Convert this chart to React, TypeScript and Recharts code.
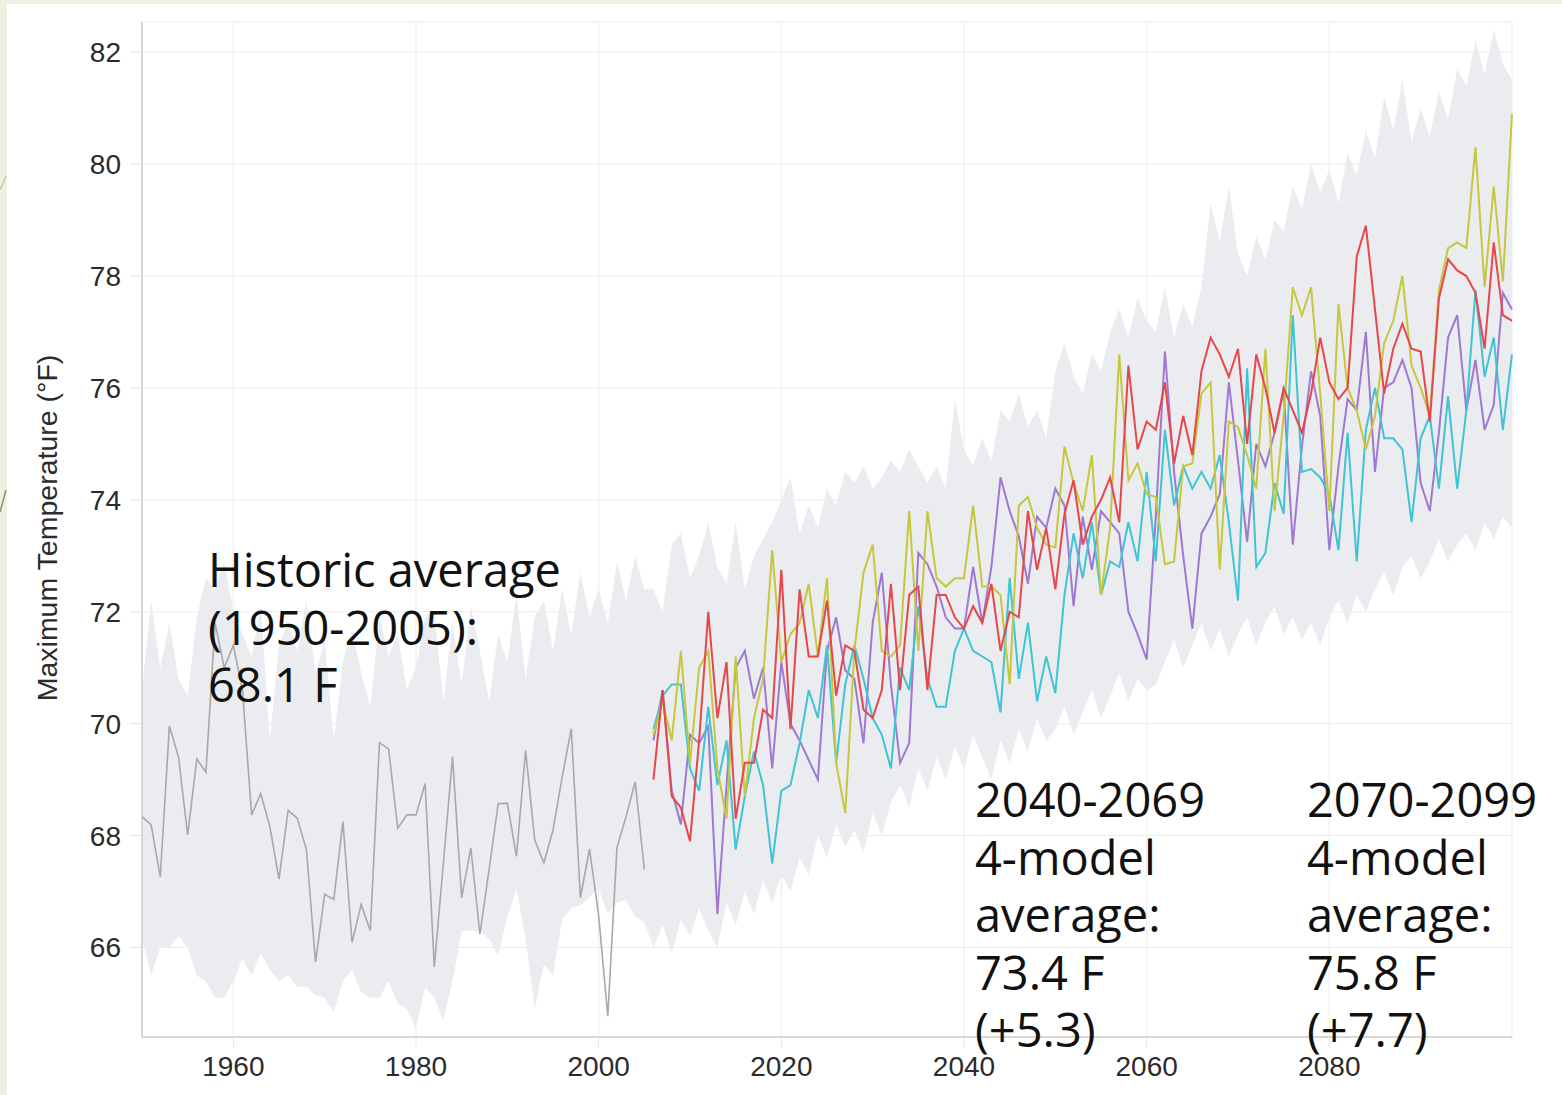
import React from 'react';
import { ComposedChart, Area, Line, XAxis, YAxis, CartesianGrid } from 'recharts';

// Maximum temperature (°F): observed 1950-2005, four downscaled models 2006-2100
const FIRST_YEAR = 1950;
const MODEL_START = 2006;

const xTicks = [1960, 1980, 2000, 2020, 2040, 2060, 2080];
const yTicks = [66, 68, 70, 72, 74, 76, 78, 80, 82];

const historic = [
  68.34, 68.19, 67.26, 69.96, 69.4, 68.01, 69.37, 69.13, 71.8, 71.0,
  71.4, 70.6, 68.37, 68.75, 68.16, 67.22, 68.45, 68.31, 67.75, 65.74,
  66.95, 66.86, 68.25, 66.09, 66.77, 66.3, 69.66, 69.55, 68.13, 68.37,
  68.37, 68.93, 65.65, 67.51, 69.41, 66.89, 67.78, 66.24, 67.39, 68.57,
  68.58, 67.63, 69.52, 67.92, 67.51, 68.1, 69.04, 69.91, 66.89, 67.76,
  66.57, 64.77, 67.78, 68.34, 68.96, 67.39,
];

const modelRed = [
  69.0, 70.6, 68.7, 68.5,
  67.9, 69.7, 72.0, 70.1, 71.1, 68.3, 69.3, 69.3, 70.25, 70.1,
  72.75, 69.9, 72.4, 71.2, 71.2, 72.2, 70.5, 71.4, 71.3, 70.25,
  70.1, 70.6, 72.5, 70.6, 72.3, 72.45, 70.6, 72.3, 72.3, 71.9,
  71.7, 72.1, 71.8, 72.5, 71.3, 72.0, 71.9, 73.8, 72.75, 73.5,
  72.4, 73.75, 74.35, 73.2, 73.7, 74.0, 74.4, 73.6, 76.4, 74.9,
  75.4, 75.25, 76.1, 74.65, 75.5, 74.8, 76.3, 76.9, 76.6, 76.2,
  76.7, 75.0, 76.6, 76.0, 75.2, 76.0, 75.6, 75.2, 75.9, 76.9,
  76.1, 75.8, 76.0, 78.35, 78.9, 77.4, 75.9, 76.7, 77.15, 76.7,
  76.65, 75.4, 77.6, 78.3, 78.1, 78.0, 77.7, 76.7, 78.6, 77.3,
  77.2,
];

const modelYellow = [
  69.8, 70.4, 69.7, 71.3,
  69.3, 71.0, 71.3, 69.2, 68.3, 71.2, 68.7, 70.1, 70.8, 73.1,
  71.1, 71.6, 71.8, 72.5, 71.2, 72.6, 69.3, 68.4, 71.3, 72.7,
  73.2, 71.3, 71.2, 71.4, 73.8, 71.3, 73.8, 72.6, 72.45, 72.6,
  72.6, 73.9, 72.45, 72.45, 72.3, 70.7, 73.9, 74.05, 73.5, 73.2,
  73.15, 74.95, 74.3, 73.8, 74.8, 72.3, 73.5, 76.6, 74.35, 74.65,
  74.1, 74.05, 72.85, 72.9, 74.6, 74.65, 75.9, 76.1, 72.75, 75.4,
  75.3, 74.8, 74.2, 76.7, 73.8, 75.5, 77.8, 77.3, 77.8, 75.9,
  73.8, 77.5, 76.0, 75.6, 74.9, 75.5, 76.8, 77.2, 78.0, 76.4,
  76.0, 75.5, 77.75, 78.5, 78.6, 78.5, 80.3, 77.8, 79.6, 77.9,
  80.9,
];

const modelPurple = [
  69.7, 70.6, 68.8, 68.2,
  69.8, 69.65, 69.95, 66.6, 68.9, 71.0, 71.3, 70.45, 71.0, 69.2,
  71.1, 70.0, 69.7, 69.35, 69.0, 71.3, 71.9, 70.95, 70.8, 69.65,
  71.8, 72.7, 70.7, 69.3, 69.65, 73.05, 72.85, 72.45, 71.9, 71.7,
  71.7, 72.8, 71.8, 72.8, 74.4, 73.8, 73.35, 72.5, 73.7, 73.5,
  74.2, 73.9, 72.1, 73.7, 72.75, 73.8, 73.6, 73.4, 72.0, 71.6,
  71.15, 73.7, 76.65, 74.5, 73.0, 71.7, 73.4, 73.7, 74.1, 76.1,
  74.7, 73.25, 75.0, 74.6, 75.2, 75.95, 73.2, 74.95, 76.3, 75.5,
  73.1, 74.6, 75.8, 75.6, 77.0, 74.5, 76.0, 76.1, 76.5, 76.0,
  74.3, 73.8, 75.2, 76.9, 77.3, 75.6, 76.5, 75.25, 75.7, 77.7,
  77.4,
];

const modelCyan = [
  69.9, 70.5, 70.7, 70.7,
  69.2, 68.8, 70.3, 68.9, 69.7, 67.75, 68.7, 69.5, 68.9, 67.5,
  68.8, 68.9, 69.65, 70.6, 70.1, 71.4, 69.3, 70.7, 71.4, 70.8,
  70.1, 69.8, 69.2, 71.0, 70.6, 72.1, 70.8, 70.3, 70.3, 71.3,
  71.7, 71.3, 71.2, 71.1, 70.2, 72.6, 70.8, 71.8, 70.4, 71.2,
  70.55, 72.3, 73.4, 72.6, 73.6, 72.3, 72.9, 72.8, 73.6, 72.9,
  74.5, 72.9, 75.25, 73.9, 74.6, 74.2, 74.5, 74.2, 74.8, 73.6,
  72.2, 76.35, 72.8, 73.05, 74.3, 73.75, 77.3, 74.5, 74.55, 74.4,
  74.1, 73.1, 75.2, 72.9, 75.25, 76.0, 75.1, 75.1, 74.9, 73.6,
  75.1, 75.5, 74.2, 75.85, 74.2, 75.6, 77.75, 76.2, 76.9, 75.25,
  76.6,
];

// envelope of the model ensemble, 1950-2100
const bandHigh = [
  70.6, 72.2, 71.0, 71.8, 70.8, 70.5, 71.9, 72.6, 72.4, 72.9,
  72.0, 71.6, 71.2, 72.1, 69.7, 71.4, 71.8, 71.3, 72.2, 70.9,
  71.5, 69.7, 71.1, 71.7, 70.9, 70.3, 71.9, 71.2, 71.6, 70.6,
  71.0, 71.9, 72.0, 70.4, 71.8, 70.7, 72.1, 71.3, 70.4, 71.6,
  71.1, 72.3, 70.8, 71.9, 72.2, 71.3, 72.4, 71.6, 72.7, 71.9,
  72.4, 71.8, 72.9, 72.2, 73.0, 72.4, 72.4, 72.0, 73.2, 73.4,
  72.6, 73.0, 73.6, 72.8, 72.5, 73.6, 72.4, 73.0, 73.3, 73.6,
  74.0, 74.4, 73.4, 73.9, 73.5, 74.2, 73.9, 74.5, 74.3, 74.6,
  74.2, 74.4, 74.7, 74.5, 74.9, 74.6, 74.3, 74.6, 74.2, 75.8,
  74.9, 74.6, 75.1, 74.7, 75.6, 75.4, 75.9, 75.3, 75.6, 75.1,
  76.3, 76.8, 76.2, 75.9, 76.6, 76.3, 77.0, 77.4, 76.9, 77.6,
  77.2, 77.0, 77.8, 76.9, 77.5, 77.1, 77.8, 79.3, 78.6, 79.6,
  78.4, 78.0, 78.7, 78.3, 79.0, 78.8, 79.6, 79.2, 80.0, 79.5,
  79.9, 79.3, 80.2, 79.8, 80.6, 80.1, 81.2, 80.6, 81.5, 80.4,
  81.0, 80.5, 81.3, 80.8, 81.7, 81.4, 82.2, 81.6, 82.4, 81.8,
  81.5,
];

const bandLow = [
  66.15, 65.5, 66.0, 66.0, 66.2, 66.0, 65.5, 65.4, 65.1, 65.1,
  65.4, 65.8, 65.5, 65.9, 65.6, 65.4, 65.5, 65.3, 65.3, 65.15,
  65.1, 64.85, 65.4, 65.6, 65.2, 65.1, 65.1, 65.4, 65.0, 64.9,
  64.55, 65.3, 65.1, 64.7, 65.4, 66.3, 66.3, 66.3, 66.15, 65.85,
  66.55, 67.05, 66.15, 64.9, 65.7, 65.5, 66.5, 66.7, 66.75, 66.9,
  67.05, 66.6, 66.8, 66.85, 66.55, 66.45, 66.0, 66.4, 65.9, 66.5,
  66.2, 66.7, 66.3, 66.0, 66.8, 66.4, 67.0, 66.6, 67.2, 66.8,
  67.3, 67.0, 67.6, 67.3, 68.0, 67.6, 68.2, 67.8, 68.1, 67.7,
  68.4, 68.0, 68.6, 68.9, 68.5, 69.2, 68.8, 69.4, 69.0, 69.6,
  69.2, 69.8, 69.4, 69.0, 69.7, 69.3, 69.9, 69.5, 70.1, 69.7,
  69.9, 70.3, 69.8, 70.2, 70.6, 70.1, 70.5, 70.9, 70.4, 70.8,
  70.6, 70.7, 71.1, 71.5, 71.0, 71.4, 71.8, 71.3, 71.7, 71.2,
  71.6, 71.9, 71.4, 71.8, 72.1, 71.6, 71.9, 71.5, 71.8, 71.4,
  71.9, 72.2, 71.8, 72.3, 72.0, 72.4, 72.7, 72.3, 72.8, 73.0,
  72.6, 72.9, 73.3, 72.9, 73.2, 73.4, 73.1, 73.6, 73.3, 73.7,
  73.5,
];

const historicNote = ['Historic average', '(1950-2005):', '68.1 F'];
const midNote = ['2040-2069', '4-model', 'average:', '73.4 F', '(+5.3)'];
const lateNote = ['2070-2099', '4-model', 'average:', '75.8 F', '(+7.7)'];

const sans = '"Liberation Sans", Arial, Helvetica, sans-serif';
const axisFont = { fontFamily: sans, fontSize: 28, fill: '#2b2b2b' };

const Note = ({ lines, x, y }: { lines: string[]; x: number; y: number }) => (
  <text x={x} y={y} fontFamily='"Open Sans", "DejaVu Sans", sans-serif' fontSize={47} fill="#111">
    {lines.map((l, i) => (
      <tspan key={i} x={x} dy={i === 0 ? 0 : 57.5}>
        {l}
      </tspan>
    ))}
  </text>
);

export default function App() {
  const rows = bandHigh.map((hi, i) => {
    const year = FIRST_YEAR + i;
    const m = year - MODEL_START;
    return {
      year,
      range: [bandLow[i], hi],
      hist: i < historic.length ? historic[i] : null,
      red: m >= 0 ? modelRed[m] : null,
      yellow: m >= 0 ? modelYellow[m] : null,
      purple: m >= 0 ? modelPurple[m] : null,
      cyan: m >= 0 ? modelCyan[m] : null,
    };
  });

  return (
    <div style={{ position: 'absolute', left: 0, top: 0, width: 1562, height: 1095, background: '#eef1e1', overflow: 'hidden' }}>
      <div style={{ position: 'absolute', left: 7, top: 4, width: 1555, height: 1091, background: '#fff' }}>
        <ComposedChart width={1555} height={1091} data={rows} margin={{ top: 18, right: 50, bottom: 18, left: 55 }}>
          <CartesianGrid stroke="#ebebeb" />
          <XAxis
            dataKey="year"
            type="number"
            domain={[1950, 2100]}
            ticks={xTicks}
            height={40}
            tick={axisFont}
            tickSize={10}
            tickMargin={9}
            tickLine={{ stroke: '#e4e4e4' }}
            axisLine={{ stroke: '#b9b9b9' }}
          />
          <YAxis
            type="number"
            domain={[64.4, 82.54]}
            ticks={yTicks}
            allowDataOverflow
            width={80}
            tick={axisFont}
            tickSize={12}
            tickMargin={9}
            tickLine={{ stroke: '#e4e4e4' }}
            axisLine={{ stroke: '#b9b9b9' }}
          />
          <Area type="linear" dataKey="range" stroke="none" fill="#ebecf0" fillOpacity={1} activeDot={false} isAnimationActive={false} />
          <Line type="linear" dataKey="hist" stroke="#a8a8a8" strokeWidth={1.6} dot={false} isAnimationActive={false} />
          <Line type="linear" dataKey="purple" stroke="#9f78d2" strokeWidth={2} dot={false} isAnimationActive={false} />
          <Line type="linear" dataKey="cyan" stroke="#3fc4d4" strokeWidth={2} dot={false} isAnimationActive={false} />
          <Line type="linear" dataKey="yellow" stroke="#c6c73c" strokeWidth={2} dot={false} isAnimationActive={false} />
          <Line type="linear" dataKey="red" stroke="#e5474b" strokeWidth={2} dot={false} isAnimationActive={false} />
        </ComposedChart>
      </div>
      <svg width={1562} height={1095} style={{ position: 'absolute', left: 0, top: 0, pointerEvents: 'none' }}>
        <line x1={6} y1={176} x2={0} y2={190} stroke="#c3c9a8" strokeWidth={1.5} />
        <line x1={6} y1={490} x2={0} y2={512} stroke="#8d8f66" strokeWidth={1.5} />
        <text
          x={47}
          y={528}
          transform="rotate(-90 47 528)"
          textAnchor="middle"
          dominantBaseline="central"
          fontFamily={sans}
          fontSize={28.5}
          fill="#2b2b2b"
        >
          Maximum Temperature (°F)
        </text>
        <Note lines={historicNote} x={208} y={587} />
        <Note lines={midNote} x={975} y={817} />
        <Note lines={lateNote} x={1307} y={817} />
      </svg>
    </div>
  );
}
